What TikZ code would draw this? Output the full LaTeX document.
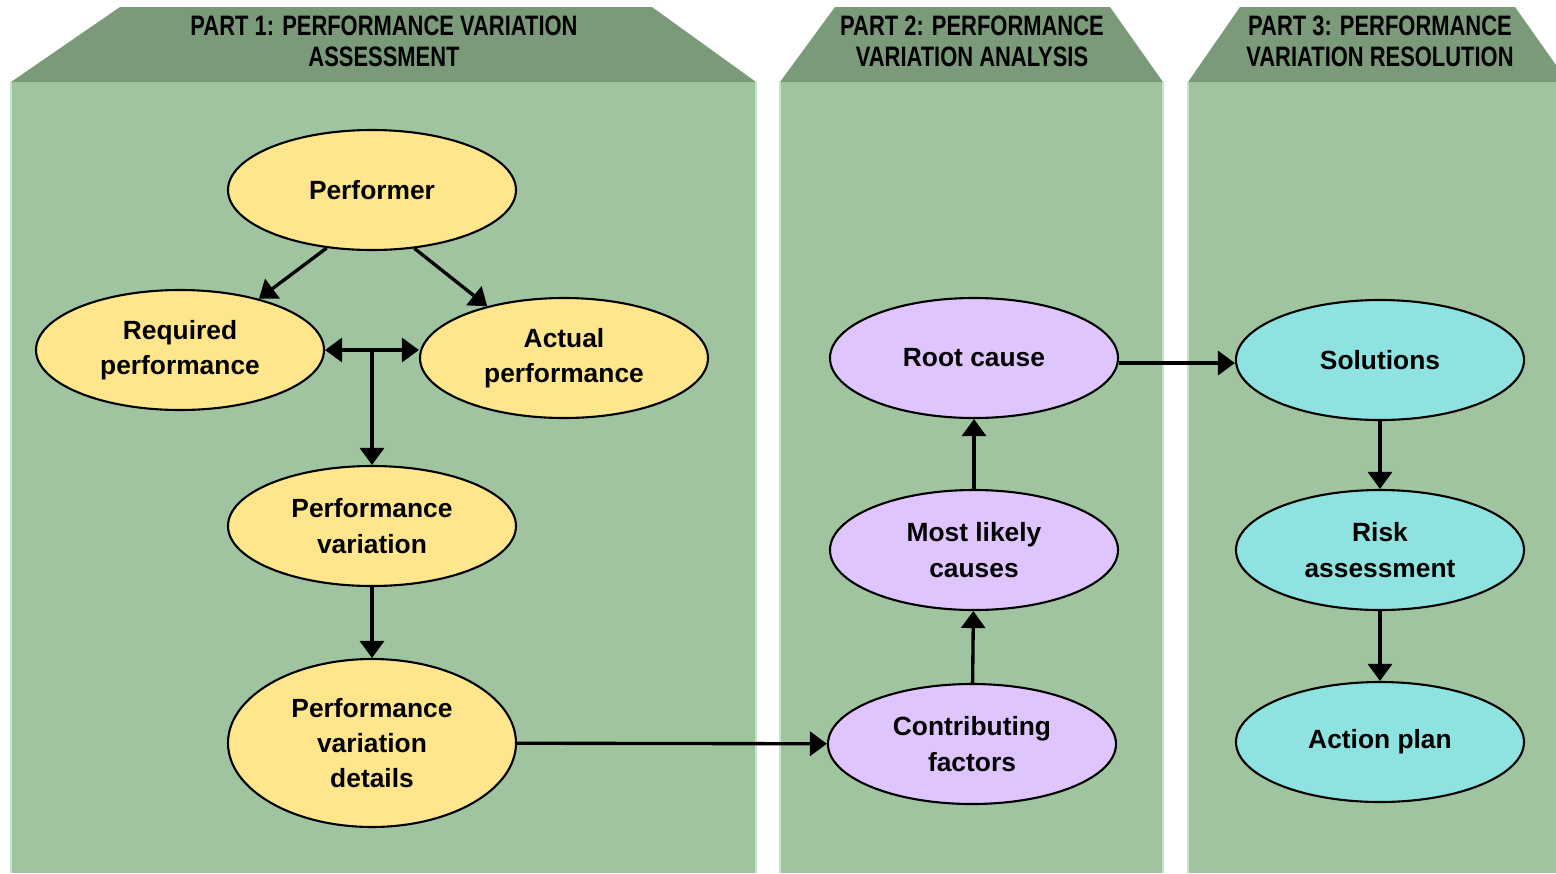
\documentclass[tikz,border=0pt]{standalone}
\usepackage{fontspec}
\setmainfont{Liberation Sans}
\newfontfamily\headfont[FakeStretch=0.78]{Liberation Sans}
\usetikzlibrary{shapes.geometric}
\usetikzlibrary{arrows.meta}
\definecolor{head-green}{RGB}{122, 154, 122}
\definecolor{body-green}{RGB}{160, 196, 160}
\definecolor{edge-green}{RGB}{196, 230, 196}
\definecolor{stage-yellow}{RGB}{255, 230, 140}
\definecolor{stage-purple}{RGB}{223, 197, 254}
\definecolor{stage-cyan}{RGB}{142, 227, 224}

\tikzset{
  stage/.style={ellipse, draw=black, line width=0.6pt, minimum width=2.88cm,
    minimum height=1.2cm, inner sep=0pt, align=center,
    font=\fontsize{7.5}{10}\selectfont\bfseries},
  tip/.style={Triangle[length=1.7mm, width=2.4mm]},
  flow/.style={-{Triangle[length=1.7mm, width=2.4mm]}, line width=0.95pt},
  heading/.style={align=center, font=\headfont\bfseries\fontsize{8}{8.8}\selectfont}
}

\begin{document}
\begin{tikzpicture}[x=0.1mm, y=-0.1mm]
                \useasboundingbox (0, 0) rectangle (1556, 873);
                \clip (0, 0) rectangle (1556, 873);
                % panels
                \fill[body-green] (11, 82) rectangle (756, 873);
                \fill[body-green] (780, 82) rectangle (1163, 873);
                \fill[body-green] (1188, 82) rectangle (1580, 873);
                \draw[edge-green, line width=0.8pt] (11, 82) -- (11, 873) (756, 82) -- (756, 873);
                \draw[edge-green, line width=0.8pt] (780, 82) -- (780, 873) (1163, 82) -- (1163, 873);
                \draw[edge-green, line width=0.8pt] (1188, 82) -- (1188, 873);
                \fill[head-green] (11, 82) -- (120, 7) -- (652, 7) -- (756, 82) -- cycle;
                \fill[head-green] (780, 82) -- (835, 7) -- (1110, 7) -- (1163, 82) -- cycle;
                \fill[head-green] (1188, 82) -- (1240, 7) -- (1515, 7) -- (1568, 82) -- cycle;
                \node[heading] (head1) at (384, 41) {PART 1: PERFORMANCE VARIATION\\ASSESSMENT};
                \node[heading] (head2) at (972, 41) {PART 2: PERFORMANCE\\VARIATION ANALYSIS};
                \node[heading] (head3) at (1380, 41) {PART 3: PERFORMANCE\\VARIATION RESOLUTION};

                % part 1
                \node[stage, fill=stage-yellow] (performer) at (372, 190) {Performer};
                \node[stage, fill=stage-yellow] (required) at (180, 350) {Required\\performance};
                \node[stage, fill=stage-yellow] (actual) at (564, 358) {Actual\\performance};
                \node[stage, fill=stage-yellow] (variation) at (372, 526) {Performance\\variation};
                \node[stage, fill=stage-yellow, minimum height=1.68cm] (details) at (372, 743) {Performance\\variation\\details};

                % part 2
                \node[stage, fill=stage-purple] (rootcause) at (974, 358) {Root cause};
                \node[stage, fill=stage-purple] (likely) at (974, 550) {Most likely\\causes};
                \node[stage, fill=stage-purple] (factors) at (972, 744) {Contributing\\factors};

                % part 3
                \node[stage, fill=stage-cyan] (solutions) at (1380, 360) {Solutions};
                \node[stage, fill=stage-cyan] (risk) at (1380, 550) {Risk\\assessment};
                \node[stage, fill=stage-cyan] (actionplan) at (1380, 742) {Action plan};

                \draw[flow] (performer.232) -- (required.33);
                \draw[flow] (performer.306) -- (actual.146);
                \draw[flow, {Triangle[length=1.7mm, width=2.4mm]}-{Triangle[length=1.7mm, width=2.4mm]}] (required.east) -- (required.east -| actual.west);
                \draw[flow] (variation.north |- required.east) -- (variation.north);
                \draw[flow] (variation) -- (details);
                \draw[flow] (details) -- (factors);
                \draw[flow] (factors) -- (likely);
                \draw[flow] (likely) -- (rootcause);
                \draw[flow] (rootcause.358) -- (rootcause.358 -| solutions.west);
                \draw[flow] (solutions) -- (risk);
                \draw[flow] (risk) -- (actionplan);
            \end{tikzpicture}
\end{document}
